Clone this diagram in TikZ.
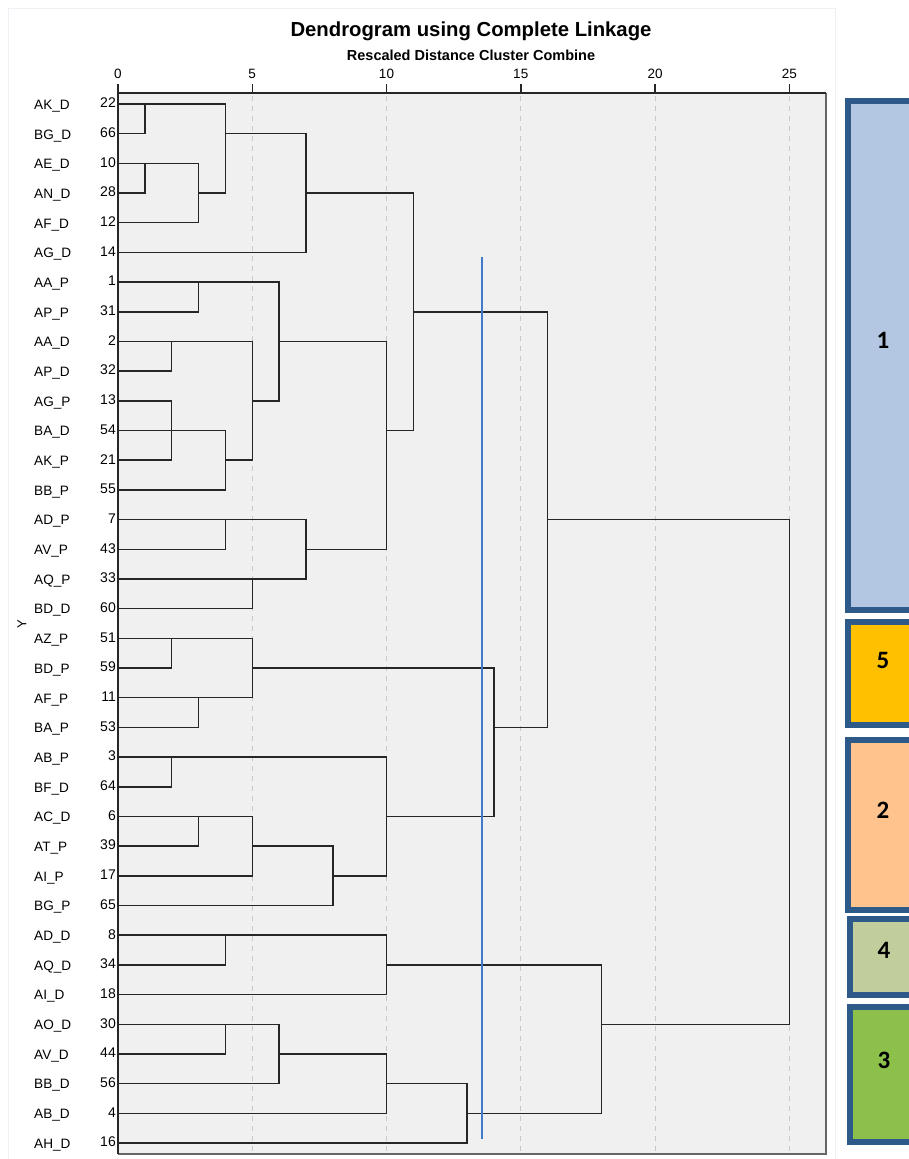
\documentclass[tikz,border=0pt]{standalone}
\usepackage{fontspec}
\setmainfont{Liberation Sans}
\newfontfamily\boxfont{Carlito}
\definecolor{plotbg}{HTML}{F0F0F0}
\definecolor{gridc}{HTML}{C8C8C8}
\definecolor{linkc}{HTML}{262626}
\definecolor{cutc}{HTML}{3F7BC8}
\definecolor{boxedge}{HTML}{2E5A8A}
\definecolor{fillone}{HTML}{B3C6E2}
\definecolor{fillfive}{HTML}{FFC000}
\definecolor{filltwo}{HTML}{FFC38D}
\definecolor{fillfour}{HTML}{C1CE9C}
\definecolor{fillthree}{HTML}{8CC04B}
\definecolor{panelc}{HTML}{EDF1F6}
\newcommand{\joinpair}[5]{%
  \coordinate (#1) at ({118+26.85*#2},{104+29.686*#3});
  \draw[link] (#4) -| (#1) |- (#5);}
\begin{document}
\begin{tikzpicture}[x=1pt,y=-1pt,
  link/.style={draw=linkc,line width=1.5pt},
  gridline/.style={draw=gridc,line width=1pt,dash pattern=on 5pt off 5pt},
  axisline/.style={draw=linkc,line width=1.5pt},
  leaflab/.style={anchor=west,inner sep=0pt,font=\fontsize{13.6}{15}\selectfont},
  leafnum/.style={anchor=east,inner sep=0pt,font=\fontsize{14}{16}\selectfont},
  ticklab/.style={inner sep=0pt,font=\fontsize{13.5}{15}\selectfont},
  clusterbox/.style={draw=boxedge,line width=6pt},
  boxnum/.style={inner sep=0pt,font=\boxfont\bfseries\fontsize{25}{28}\selectfont}]
\useasboundingbox (0,0) rectangle (909,1159);
\clip (0,0) rectangle (909,1159);
\fill[white] (0,0) rectangle (909,1159);
\draw[panelc,line width=1pt] (8,8) rectangle (835,1170);
% plot area
\fill[plotbg] (118,93) rectangle (826,1154);
\foreach \d in {5,10,15,20,25}
  \draw[gridline] ({118+26.85*\d},96) -- ({118+26.85*\d},1152);
\draw[draw=gray!80!black,line width=1.3pt] (826,93) -- (826,1154) -- (118,1154);
\draw[axisline] (118,1154) -- (118,93) -- (826,93);
\foreach \d in {0,5,10,15,20,25}{
  \draw[axisline] ({118+26.85*\d},93) -- ({118+26.85*\d},84);
  \node[ticklab] (t\d) at ({118+26.85*\d},74) {\d};
}
% titles
\node[inner sep=0pt,font=\bfseries\fontsize{20.3}{23}\selectfont] (title) at (471,31) {Dendrogram using Complete Linkage};
\node[inner sep=0pt,font=\bfseries\fontsize{14.5}{16}\selectfont] (subtitle) at (471,55) {Rescaled Distance Cluster Combine};
\node[inner sep=0pt,rotate=90,font=\fontsize{13}{15}\selectfont] (ylab) at (22,624) {Y};
% leaves
\foreach \i/\lab/\num in {0/AK\_D/22,1/BG\_D/66,2/AE\_D/10,3/AN\_D/28,4/AF\_D/12,5/AG\_D/14,
  6/AA\_P/1,7/AP\_P/31,8/AA\_D/2,9/AP\_D/32,10/AG\_P/13,11/BA\_D/54,12/AK\_P/21,13/BB\_P/55,
  14/AD\_P/7,15/AV\_P/43,16/AQ\_P/33,17/BD\_D/60,18/AZ\_P/51,19/BD\_P/59,20/AF\_P/11,21/BA\_P/53,
  22/AB\_P/3,23/BF\_D/64,24/AC\_D/6,25/AT\_P/39,26/AI\_P/17,27/BG\_P/65,28/AD\_D/8,29/AQ\_D/34,
  30/AI\_D/18,31/AO\_D/30,32/AV\_D/44,33/BB\_D/56,34/AB\_D/4,35/AH\_D/16}{
  \coordinate (L\i) at (118,{104+29.686*\i});
  \node[leaflab] (lab\i) at (34,{106+29.686*\i}) {\lab};
  \node[leafnum] (num\i) at (116,{103+29.686*\i}) {\num};
}
% merges: name, distance, emit row, top child, bottom child
\joinpair{m1}{1}{0}{L0}{L1}
\joinpair{m2}{1}{2}{L2}{L3}
\joinpair{m3}{3}{3}{m2}{L4}
\joinpair{m4}{4}{1}{m1}{m3}
\joinpair{m5}{7}{3}{m4}{L5}
\joinpair{m6}{3}{6}{L6}{L7}
\joinpair{m7}{2}{8}{L8}{L9}
\joinpair{m8}{2}{11}{L10}{L12}
\draw[link] (L11) -- (m8);
\joinpair{m9}{4}{12}{m8}{L13}
\joinpair{m10}{5}{10}{m7}{m9}
\joinpair{m11}{6}{8}{m6}{m10}
\joinpair{m12}{4}{14}{L14}{L15}
\joinpair{m13}{5}{16}{L16}{L17}
\joinpair{m14}{7}{15}{m12}{m13}
\joinpair{m15}{10}{11}{m11}{m14}
\joinpair{m16}{11}{7}{m5}{m15}
\joinpair{m17}{2}{18}{L18}{L19}
\joinpair{m18}{3}{20}{L20}{L21}
\joinpair{m19}{5}{19}{m17}{m18}
\joinpair{m20}{2}{22}{L22}{L23}
\joinpair{m21}{3}{24}{L24}{L25}
\joinpair{m22}{5}{25}{m21}{L26}
\joinpair{m23}{8}{26}{m22}{L27}
\joinpair{m24}{10}{24}{m20}{m23}
\joinpair{m25}{14}{21}{m19}{m24}
\joinpair{m26}{16}{14}{m16}{m25}
\joinpair{m27}{4}{28}{L28}{L29}
\joinpair{m28}{10}{29}{m27}{L30}
\joinpair{m29}{4}{31}{L31}{L32}
\joinpair{m30}{6}{32}{m29}{L33}
\joinpair{m31}{10}{33}{m30}{L34}
\joinpair{m32}{13}{34}{m31}{L35}
\joinpair{m33}{18}{31}{m28}{m32}
\joinpair{root}{25}{22}{m26}{m33}
% cut line
\coordinate (cuttop) at (482,257);
\coordinate (cutbot) at (482,1139);
\draw[cutc,line width=1.6pt] (cuttop) -- (cutbot);
% cluster boxes
\draw[clusterbox,fill=fillone] (848,101) rectangle (918,610);
\draw[clusterbox,fill=fillfive] (848,622) rectangle (918,725);
\draw[clusterbox,fill=filltwo] (848,740) rectangle (918,910);
\draw[clusterbox,fill=fillfour] (850,919) rectangle (918,995);
\draw[clusterbox,fill=fillthree] (850,1007) rectangle (918,1142);
\node[boxnum] (c1) at (883,340) {1};
\node[boxnum] (c5) at (883,660) {5};
\node[boxnum] (c2) at (883,810) {2};
\node[boxnum] (c4) at (884,950) {4};
\node[boxnum] (c3) at (884,1060) {3};
\end{tikzpicture}
\end{document}
